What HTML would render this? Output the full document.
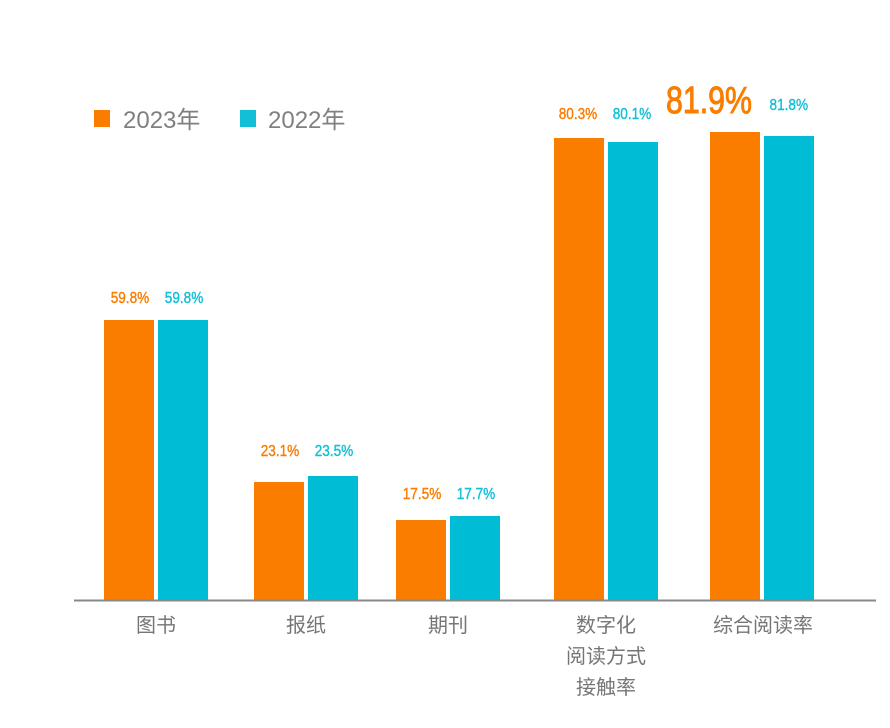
<!DOCTYPE html>
<html><head><meta charset="utf-8"><style>
html,body{margin:0;padding:0;background:#fff;}
svg{display:block;}
text{font-family:"Liberation Sans","Noto Sans CJK SC",sans-serif;}
</style></head><body>
<svg width="890" height="728" viewBox="0 0 890 728">
<rect width="890" height="728" fill="#fff"/>
<!-- legend -->
<rect x="94" y="110" width="16" height="17" fill="#fb7d00"/>
<text x="123" y="128" font-size="24" fill="#808080">2023年</text>
<rect x="240" y="110" width="16" height="17" fill="#12bfd7"/>
<text x="268" y="128" font-size="24" fill="#808080">2022年</text>
<!-- bars -->
<g fill="#fb7d00">
<rect x="104" y="320" width="50" height="281"/>
<rect x="254" y="482" width="50" height="119"/>
<rect x="396" y="520" width="50" height="81"/>
<rect x="554" y="138" width="50" height="463"/>
<rect x="710" y="132" width="50" height="469"/>
</g>
<g fill="#00bcd4">
<rect x="158" y="320" width="50" height="281"/>
<rect x="308" y="476" width="50" height="125"/>
<rect x="450" y="516" width="50" height="85"/>
<rect x="608" y="142" width="50" height="459"/>
<rect x="764" y="136" width="50" height="465"/>
</g>
<line x1="74" y1="600.5" x2="876" y2="600.5" stroke="#888" stroke-width="2"/>
<!-- values -->
<g font-size="16" text-anchor="middle" stroke-width="0.4" transform="scale(0.85,1)">
<text x="152.9" y="303" fill="#fb7d00" stroke="#fb7d00">59.8%</text>
<text x="216.5" y="303" fill="#12bfd7" stroke="#12bfd7">59.8%</text>
<text x="329.4" y="456" fill="#fb7d00" stroke="#fb7d00">23.1%</text>
<text x="392.9" y="456" fill="#12bfd7" stroke="#12bfd7">23.5%</text>
<text x="496.5" y="499" fill="#fb7d00" stroke="#fb7d00">17.5%</text>
<text x="560" y="499" fill="#12bfd7" stroke="#12bfd7">17.7%</text>
<text x="680" y="119" fill="#fb7d00" stroke="#fb7d00">80.3%</text>
<text x="743.5" y="119" fill="#12bfd7" stroke="#12bfd7">80.1%</text>
<text x="928" y="110" fill="#12bfd7" stroke="#12bfd7">81.8%</text>
</g>
<text x="709" y="113" font-size="38" text-anchor="middle" fill="#fb7d00" stroke="#fb7d00" stroke-width="1" textLength="86" lengthAdjust="spacingAndGlyphs">81.9%</text>
<!-- categories -->
<g font-size="20" text-anchor="middle" fill="#767676">
<text x="156" y="632">图书</text>
<text x="306" y="632">报纸</text>
<text x="448" y="632">期刊</text>
<text x="606" y="632">数字化</text>
<text x="606" y="663">阅读方式</text>
<text x="606" y="694">接触率</text>
<text x="763" y="632">综合阅读率</text>
</g>
</svg>
</body></html>
